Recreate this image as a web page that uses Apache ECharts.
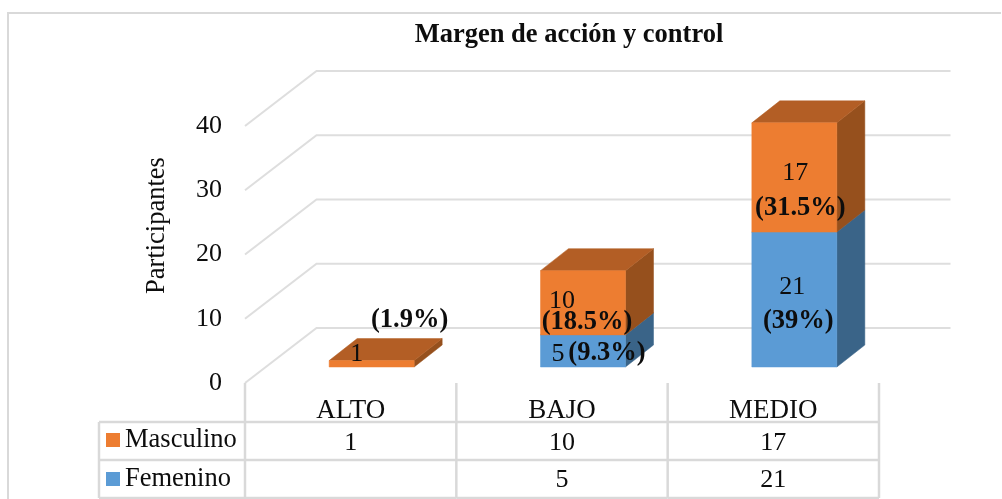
<!DOCTYPE html>
<html><head><meta charset="utf-8">
<style>html,body{margin:0;padding:0;background:#fff}#c{width:1002px;height:499px}</style>
<script src="https://cdn.jsdelivr.net/npm/echarts@6/dist/echarts.min.js"></script>
</head><body><div id="c"></div>
<script>
const categories = ['ALTO', 'BAJO', 'MEDIO'];
const femenino = [null, 5, 21];
const masculino = [1, 10, 17];
const femeninoPct = [null, '(9.3%)', '(39%)'];
const masculinoPct = ['(1.9%)', '(18.5%)', '(31.5%)'];
const valueTicks = [0, 10, 20, 30, 40];

const FONT = '"Liberation Serif", "Times New Roman", serif';
const TEXT = '#0d0d0d', GRID = '#DEDEDE', TABLE = '#D9D9D9';
// oblique projection of the 3-D box
const WALL = { dx: 71.5, dy: -55 }, BAR_IN = { dx: 21, dy: -16 }, BAR_DEPTH = { dx: 28, dy: -22 };
const BAR_W = 85;
const ORANGE = { front: '#ED7D31', top: '#B35E25', side: '#96501D' };
const BLUE = { front: '#5B9BD5', top: '#4A7FAE', side: '#3A6488' };
// hand placement of the data labels, as in the reference (dx, dy from segment centre)
const NUDGE = {
  m: [{ n: [-15, -10], p: [38, -44] }, { n: [-21, -2], p: [4, 19] }, { n: [1, -4], p: [6, 31] }],
  f: [null, { n: [-25, 3], p: [24, 2] }, { n: [-2, -12], p: [4, 22] }]
};

function poly(pts, fill) {
  return { type: 'polygon', shape: { points: pts }, style: { fill: fill, stroke: fill, lineWidth: 0.5 } };
}
function segment(name, colors, base, values) {
  return {
    type: 'custom', name: name, coordinateSystem: 'cartesian2d', z: 5, clip: false,
    itemStyle: { color: colors.front },
    encode: { x: 0, y: 1 },
    data: categories.map((c, i) => [i, values[i], base[i]]),
    renderItem: function (params, api) {
      const v = api.value(1);
      if (v == null || isNaN(v)) return null;
      const b = api.value(2) || 0;
      const pc = api.coord([api.value(0), b]);
      const pt = api.coord([api.value(0), b + v]);
      const x0 = pc[0] + BAR_IN.dx - BAR_W / 2, x1 = x0 + BAR_W;
      const y0 = pc[1] + BAR_IN.dy, y1 = pt[1] + BAR_IN.dy;
      const d = BAR_DEPTH;
      return { type: 'group', children: [
        poly([[x1, y0], [x1 + d.dx, y0 + d.dy], [x1 + d.dx, y1 + d.dy], [x1, y1]], colors.side),
        poly([[x0, y1], [x1, y1], [x1 + d.dx, y1 + d.dy], [x0 + d.dx, y1 + d.dy]], colors.top),
        poly([[x0, y0], [x1, y0], [x1, y1], [x0, y1]], colors.front)
      ]};
    }
  };
}
const femBase = categories.map(() => 0);
const mascBase = femenino.map(v => v || 0);

const option = {
  animation: false,
  backgroundColor: '#fff',
  textStyle: { fontFamily: FONT },
  title: { text: 'Margen de acción y control', left: 564, top: 17, textAlign: 'center',
    textStyle: { fontFamily: FONT, fontSize: 26.5, fontWeight: 'bold', color: TEXT } },
  legend: { orient: 'vertical', left: 106, top: 425, padding: 0, itemWidth: 14, itemHeight: 14, itemGap: 9, icon: 'rect',
    data: ['Masculino', 'Femenino'], selectedMode: false,
    textStyle: { fontFamily: FONT, fontSize: 26.5, lineHeight: 26, color: TEXT, padding: [4, 0, 0, 0] } },
  grid: { left: 245, top: 126, width: 634, height: 257 },
  xAxis: { type: 'category', data: categories, axisLine: { show: false }, axisTick: { show: false },
    axisLabel: { margin: 14, fontFamily: FONT, fontSize: 27, color: TEXT }, splitLine: { show: false } },
  yAxis: { type: 'value', min: 0, max: 40, interval: 10, name: 'Participantes', nameLocation: 'middle', nameGap: 74,
    nameRotate: 90,
    nameTextStyle: { fontFamily: FONT, fontSize: 26.5, color: TEXT, padding: [0, 0, 0, 58] },
    axisLine: { show: false }, axisTick: { show: false }, splitLine: { show: false },
    axisLabel: { margin: 23, fontFamily: FONT, fontSize: 26, color: TEXT, padding: [9, 0, 0, 0] } },
  series: [
    { type: 'custom', name: 'walls', z: 1, clip: false, silent: true, coordinateSystem: 'cartesian2d',
      data: valueTicks.map(t => [0, t]), encode: { x: 0, y: 1 },
      renderItem: function (params, api) {
        const t = api.value(1);
        const front = api.coord([0, t]);
        const left = front[0] - api.size([1, 0])[0] / 2;
        const right = api.coord([categories.length - 1, t])[0] + api.size([1, 0])[0] / 2;
        return { type: 'polyline', shape: { points: [[left, front[1]], [left + WALL.dx, front[1] + WALL.dy], [right + WALL.dx, front[1] + WALL.dy]] },
          style: { stroke: GRID, lineWidth: 2, fill: null } };
      } },
    segment('Femenino', BLUE, femBase, femenino),
    segment('Masculino', ORANGE, mascBase, masculino),
    { type: 'custom', name: 'labels', z: 10, clip: false, silent: true, coordinateSystem: 'cartesian2d',
      data: categories.map((c, i) => [i]), encode: { x: 0 },
      renderItem: function (params, api) {
        const i = api.value(0), kids = [];
        function put(v, base, pct, n) {
          if (v == null) return;
          const c = api.coord([i, base + v / 2]);
          const cx = c[0] + BAR_IN.dx, cy = c[1] + BAR_IN.dy;
          kids.push({ type: 'text', style: { text: String(v), x: cx + n.n[0], y: cy + n.n[1], align: 'center', verticalAlign: 'middle', font: '26px ' + FONT, fill: TEXT } });
          kids.push({ type: 'text', style: { text: pct, x: cx + n.p[0], y: cy + n.p[1], align: 'center', verticalAlign: 'middle', font: 'bold 26.5px ' + FONT, fill: TEXT } });
        }
        put(femenino[i], 0, femeninoPct[i], NUDGE.f[i]);
        put(masculino[i], mascBase[i], masculinoPct[i], NUDGE.m[i]);
        return { type: 'group', children: kids };
      } },
    { type: 'custom', name: 'table', z: 3, clip: false, silent: true, coordinateSystem: 'cartesian2d',
      data: categories.map((c, i) => [i]), encode: { x: 0 },
      renderItem: function (params, api) {
        const i = api.value(0), c = api.coord([i, 0]), w = api.size([1, 0])[0];
        const r1 = c[1] + 39, r2 = c[1] + 77, r3 = c[1] + 115, L = c[0] - w / 2, R = c[0] + w / 2;
        const line = (a, b, d, e) => ({ type: 'line', shape: { x1: a, y1: b, x2: d, y2: e }, style: { stroke: TABLE, lineWidth: 2.5 } });
        const kids = [line(R, c[1], R, r3), line(L, r1, R, r1), line(L, r2, R, r2), line(L, r3, R, r3)];
        if (i === 0) {
          const H = 99;
          kids.push(line(L, c[1], L, r3), line(H, r1, L, r1), line(H, r2, L, r2), line(H, r3, L, r3), line(H, r1, H, r3));
        }
        const cell = (v, y) => { if (v != null) kids.push({ type: 'text', style: { text: String(v), x: c[0], y: y, align: 'center', verticalAlign: 'middle', font: '26px ' + FONT, fill: TEXT } }); };
        cell(masculino[i], (r1 + r2) / 2 + 2);
        cell(femenino[i], (r2 + r3) / 2 + 1);
        return { type: 'group', children: kids };
      } }
  ],
  graphic: [{ type: 'polyline', silent: true, z: 0, shape: { points: [[8, 499], [8, 13], [1001, 13]] }, style: { fill: 'none', stroke: '#D9D9D9', lineWidth: 2 } }]
};
const chart = echarts.init(document.getElementById('c'), null, { renderer: 'canvas' });
chart.setOption(option);
</script></body></html>
